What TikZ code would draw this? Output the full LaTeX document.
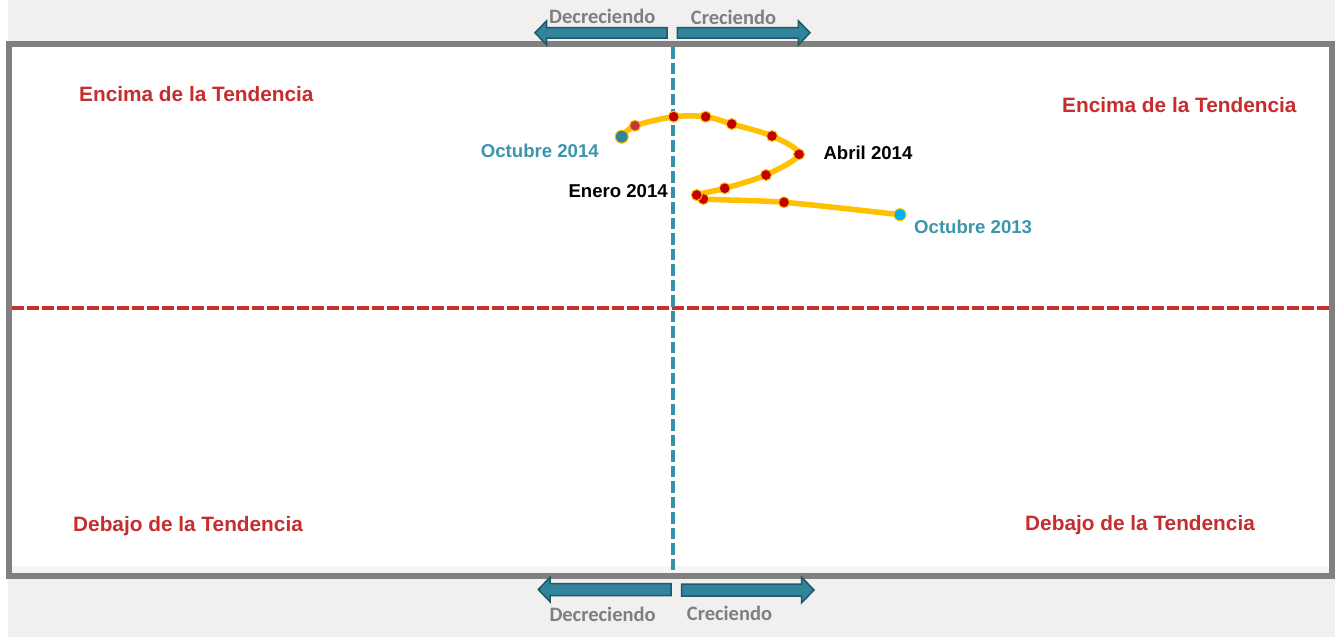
\documentclass[tikz,border=0pt]{standalone}
\usepackage{fontspec}
\setmainfont{Liberation Sans}
\newfontfamily\calfont{Carlito}
\definecolor{bggray}{HTML}{F0F0F0}
\definecolor{framegray}{HTML}{808080}
\definecolor{trendred}{HTML}{C62D2F}
\definecolor{dashred}{HTML}{C9302C}
\definecolor{dashteal}{HTML}{3A90A8}
\definecolor{arrowfill}{HTML}{31849B}
\definecolor{arrowline}{HTML}{215868}
\definecolor{labelteal}{HTML}{3D95AD}
\definecolor{growgray}{HTML}{7F7F7F}
\definecolor{curveyellow}{HTML}{FFC000}
\definecolor{dotred}{HTML}{C00000}
\definecolor{dotred2}{HTML}{C0393B}
\definecolor{dotteal}{HTML}{31849B}
\definecolor{dotcyan}{HTML}{00B0F0}
\tikzset{
  trendlabel/.style={anchor=base west,inner sep=0pt,text=trendred,font=\fontsize{20.8}{24}\selectfont\bfseries},
  datalabel/.style={anchor=base west,inner sep=0pt,font=\fontsize{18.6}{22}\selectfont\bfseries},
  growlabel/.style={anchor=base west,inner sep=0pt,text=growgray,font=\calfont\fontsize{20.5}{24}\selectfont\bfseries},
  growarrow/.style={fill=arrowfill,draw=arrowline,line width=1.5pt,line join=miter},
  dot/.style={circle,inner sep=0pt,minimum size=11pt,fill=dotred,draw=curveyellow,line width=1pt},
}
\begin{document}
\begin{tikzpicture}[x=1pt,y=-1pt]
\useasboundingbox (0,0) rectangle (1335,637);
% background
\fill[bggray] (8,0) rectangle (1335,637);
% frame
\fill[white] (9,43.5) rectangle (1331.5,576);
\fill[bggray!70] (12,566) rectangle (1328.5,573);
\draw[framegray,line width=6pt] (9,43.5) rectangle (1331.5,576);
% dashed axes
\coordinate (hl) at (12,308);
\coordinate (hr) at (1328.5,308);
\coordinate (vt) at (673,47);
\coordinate (vb) at (673,573);
\draw[dashred,line width=3.5pt,dash pattern=on 11.5pt off 3.5pt] (hl) -- (hr);
\draw[dashteal,line width=3.5pt,dash pattern=on 11.5pt off 4pt] (vt) -- (vb);
% quadrant labels
\node[trendlabel] (tl) at (79,101.7) {Encima de la Tendencia};
\node[trendlabel] (tr) at (1062,112.7) {Encima de la Tendencia};
\node[trendlabel] (bl) at (73,531.7) {Debajo de la Tendencia};
\node[trendlabel] (br) at (1025,530.7) {Debajo de la Tendencia};
% top arrows
\draw[growarrow] (667,27.5) -- (546.7,27.5) -- (546.7,20.7) -- (535,32.8) -- (546.7,44.9) -- (546.7,38.1) -- (667,38.1) -- cycle;
\draw[growarrow] (677.3,27.5) -- (798.3,27.5) -- (798.3,20.7) -- (810,32.8) -- (798.3,44.9) -- (798.3,38.1) -- (677.3,38.1) -- cycle;
\node[growlabel] (dtop) at (549,23.3) {Decreciendo};
\node[growlabel] (ctop) at (690.7,24) {Creciendo};
% bottom arrows
\draw[growarrow] (671,583.5) -- (550,583.5) -- (550,577.3) -- (538.3,589.5) -- (550,601.7) -- (550,595.5) -- (671,595.5) -- cycle;
\draw[growarrow] (681.7,584) -- (801.7,584) -- (801.7,577.3) -- (814,590) -- (801.7,602.7) -- (801.7,596) -- (681.7,596) -- cycle;
\node[growlabel] (dbot) at (549.3,621) {Decreciendo};
\node[growlabel] (cbot) at (686.7,620) {Creciendo};
% curve points
\coordinate (c1) at (900,214.7);
\coordinate (c2) at (784,202.3);
\coordinate (c3) at (703.3,199);
\coordinate (c4) at (696.7,195);
\coordinate (c5) at (724.7,188.3);
\coordinate (c6) at (766,175);
\coordinate (c7) at (799,154.3);
\coordinate (c8) at (772,136);
\coordinate (c9) at (731.7,124);
\coordinate (c10) at (705.7,116.7);
\coordinate (c11) at (673.7,116.7);
\coordinate (c12) at (635,125.7);
\coordinate (c13) at (621.7,136.7);
\draw[curveyellow,line width=5.5pt,line cap=round,line join=round]
  plot[smooth,tension=0.5] coordinates {(c1) (c2) (c3) (c4) (c5) (c6) (c7) (c8) (c9) (c10) (c11) (c12) (c13)};
\node[dot,fill=dotcyan,minimum size=12pt] (d1) at (c1) {};
\node[dot] (d2) at (c2) {};
\node[dot] (d3) at (c3) {};
\node[dot] (d4) at (c4) {};
\node[dot] (d5) at (c5) {};
\node[dot] (d6) at (c6) {};
\node[dot] (d7) at (c7) {};
\node[dot] (d8) at (c8) {};
\node[dot] (d9) at (c9) {};
\node[dot] (d10) at (c10) {};
\node[dot] (d11) at (c11) {};
\node[dot,fill=dotred2] (d12) at (c12) {};
\node[dot,fill=dotteal,minimum size=13pt] (d13) at (c13) {};
% data labels
\node[datalabel,text=labelteal] (loct14) at (480.7,157.3) {Octubre 2014};
\node[datalabel] (labr14) at (823.3,159.3) {Abril 2014};
\node[datalabel] (lene14) at (568.3,197.3) {Enero 2014};
\node[datalabel,text=labelteal] (loct13) at (914,233.7) {Octubre 2013};
\end{tikzpicture}
\end{document}
